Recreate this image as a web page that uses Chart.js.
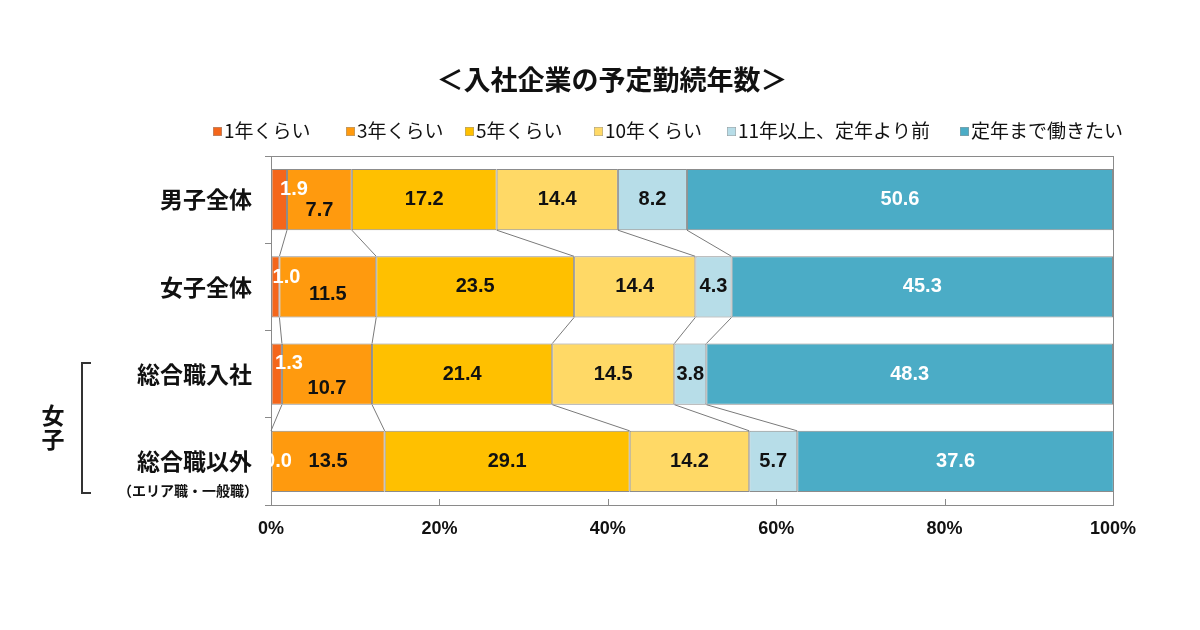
<!DOCTYPE html>
<html>
<head>
<meta charset="utf-8">
<script src="https://cdn.jsdelivr.net/npm/chart.js@4/dist/chart.umd.min.js"></script>
<style>
  html, body { margin: 0; padding: 0; background: #fff; }
  #wrap { width: 1200px; height: 630px; }
</style>
</head>
<body>
<div id="wrap"><canvas id="chart" width="1200" height="630"></canvas></div>
<script>
// データ
const title = '＜入社企業の予定勤続年数＞';
const categories = ['男子全体', '女子全体', '総合職入社', '総合職以外'];
const subLabel = '（エリア職・一般職）';
const groupLabel = '女子';
const seriesNames = ['1年くらい', '3年くらい', '5年くらい', '10年くらい', '11年以上、定年より前', '定年まで働きたい'];
const oneYear = [1.9, 1.0, 1.3, 0.0];
const threeYears = [7.7, 11.5, 10.7, 13.5];
const fiveYears = [17.2, 23.5, 21.4, 29.1];
const tenYears = [14.4, 14.4, 14.5, 14.2];
const elevenPlus = [8.2, 4.3, 3.8, 5.7];
const untilRetire = [50.6, 45.3, 48.3, 37.6];
const xTicks = [0, 20, 40, 60, 80, 100];

const seriesValues = [oneYear, threeYears, fiveYears, tenYears, elevenPlus, untilRetire];
const colors = ['#F4661B', '#FF9A0E', '#FFC000', '#FFD966', '#B7DDE8', '#4BACC6'];
const labelColors = ['#fff', '#111', '#111', '#111', '#111', '#fff'];

const JP = '"Noto Sans CJK JP", "Noto Sans", sans-serif';
const NUM = '"Liberation Sans", Arial, sans-serif';

// タイトルと凡例
const headerPlugin = {
  id: 'header',
  afterDraw(chart) {
    const ctx = chart.ctx;
    ctx.save();
    ctx.fillStyle = '#111';
    ctx.font = 'bold 27px ' + JP;
    ctx.textAlign = 'center';
    ctx.textBaseline = 'middle';
    ctx.fillText(title, 612, 80);

    const starts = [213, 346, 465, 594, 727, 960];
    ctx.font = '19px ' + JP;
    ctx.textAlign = 'left';
    seriesNames.forEach((name, i) => {
      ctx.fillStyle = colors[i];
      ctx.fillRect(starts[i], 127, 9, 9);
      ctx.strokeStyle = '#999';
      ctx.lineWidth = 0.5;
      ctx.strokeRect(starts[i] + 0.25, 127.25, 8.5, 8.5);
      ctx.fillStyle = '#111';
      ctx.fillText(name, starts[i] + 11, 131);
    });
    ctx.restore();
  }
};

// 枠、区分線、ラベル
const framePlugin = {
  id: 'frame',
  beforeDatasetsDraw(chart) {
    const {ctx, chartArea: a} = chart;
    const x = chart.scales.x;
    ctx.save();
    ctx.strokeStyle = '#8a8a8a';
    ctx.lineWidth = 1;
    ctx.strokeRect(Math.round(a.left) + 0.5, Math.round(a.top) + 0.5, Math.round(a.right - a.left), Math.round(a.bottom - a.top));
    ctx.beginPath();
    xTicks.slice(1, -1).forEach(v => {
      const px = Math.round(x.getPixelForValue(v)) + 0.5;
      ctx.moveTo(px, a.bottom);
      ctx.lineTo(px, a.bottom - 6);
    });
    ctx.stroke();

    // 系列線
    ctx.strokeStyle = '#7a7a7a';
    ctx.beginPath();
    for (let d = 0; d < seriesValues.length - 1; d++) {
      const bars = chart.getDatasetMeta(d).data;
      for (let i = 0; i < bars.length - 1; i++) {
        const b1 = bars[i], b2 = bars[i + 1];
        ctx.moveTo(b1.x, b1.y + b1.height / 2);
        ctx.lineTo(b2.x, b2.y - b2.height / 2);
      }
    }
    ctx.stroke();
    ctx.restore();
  },
  afterDatasetsDraw(chart) {
    const ctx = chart.ctx;
    const nudgeFirst = [-10, -9, -11, 0];
    const nudgeSecond = [11, 8, 14, 0];
    ctx.save();
    ctx.font = 'bold 20px ' + NUM;
    ctx.textAlign = 'center';
    ctx.textBaseline = 'middle';
    seriesValues.forEach((vals, d) => {
      chart.getDatasetMeta(d).data.forEach((bar, i) => {
        let tx = (bar.x + bar.base) / 2;
        let ty = bar.y;
        if (d === 0) { tx = bar.x + 7; ty += nudgeFirst[i]; }
        if (d === 1) { ty += nudgeSecond[i]; }
        ctx.fillStyle = labelColors[d];
        ctx.fillText(vals[i].toFixed(1), tx, ty);
      });
    });

    // 左側の補足
    const a = chart.chartArea;
    const last = chart.getDatasetMeta(0).data[3];
    ctx.fillStyle = '#111';
    ctx.font = 'bold 14px ' + JP;
    ctx.fillText(subLabel, 188, last.y + 29);

    ctx.font = 'bold 23px ' + JP;
    ctx.fillText(groupLabel[0], 53, 415);
    ctx.fillText(groupLabel[1], 53, 439);

    ctx.strokeStyle = '#333';
    ctx.lineWidth = 2;
    ctx.beginPath();
    ctx.moveTo(91, 363);
    ctx.lineTo(82, 363);
    ctx.lineTo(82, 493);
    ctx.lineTo(91, 493);
    ctx.stroke();
    ctx.restore();
  }
};

new Chart(document.getElementById('chart'), {
  type: 'bar',
  data: {
    labels: categories,
    datasets: seriesNames.map((name, i) => ({
      label: name,
      data: seriesValues[i],
      backgroundColor: colors[i],
      borderColor: '#8c8c8c',
      borderWidth: 1,
      borderSkipped: false,
      barPercentage: 0.7,
      categoryPercentage: 1.0
    }))
  },
  options: {
    indexAxis: 'y',
    responsive: false,
    animation: false,
    layout: { padding: { left: 0, right: 87, top: 156, bottom: 75 } },
    plugins: {
      legend: { display: false },
      tooltip: { enabled: false }
    },
    scales: {
      x: {
        stacked: true,
        min: 0,
        max: 100,
        afterFit: s => { s.height = 50; },
        afterBuildTicks: s => { s.ticks = xTicks.map(v => ({ value: v })); },
        grid: { display: true, drawOnChartArea: false, drawTicks: false, color: 'rgba(0,0,0,0)' },
        border: { display: false },
        ticks: {
          padding: 13,
          color: '#111',
          font: { family: NUM, size: 18, weight: 'bold' },
          callback: v => v + '%'
        }
      },
      y: {
        stacked: true,
        afterFit: s => { s.width = 271; },
        grid: { display: true, drawOnChartArea: false, offset: true, tickLength: 6, color: '#8a8a8a' },
        border: { display: false },
        ticks: {
          padding: 13,
          color: '#111',
          font: { family: JP, size: 23, weight: 'bold' }
        }
      }
    }
  },
  plugins: [headerPlugin, framePlugin]
});
</script>
</body>
</html>
